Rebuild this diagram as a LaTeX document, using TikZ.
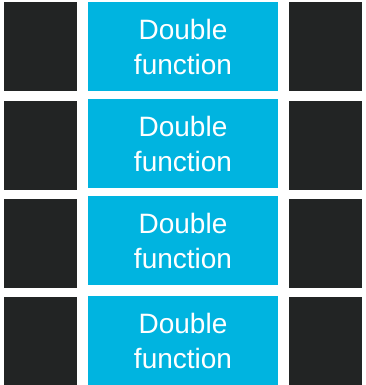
\documentclass[tikz,border=0pt]{standalone}
\usepackage{fontspec}
\setmainfont{Liberation Sans}
\definecolor{darkbox}{HTML}{222424}
\definecolor{bluebox}{HTML}{00B4E0}
\tikzset{
  darksq/.style={fill=darkbox, draw=none, minimum width=73pt, minimum height=89pt, inner sep=0pt},
  bluesq/.style={fill=bluebox, draw=none, minimum width=190pt, minimum height=89pt, inner sep=0pt,
    text=white, align=center, font=\fontsize{28}{35}\selectfont}
}
\begin{document}
\begin{tikzpicture}[x=1pt,y=1pt]
\useasboundingbox (0,0) rectangle (366,-385);
\node[darksq] (l1) at (40.5,-46.5) {};
\node[darksq] (l2) at (40.5,-145.5) {};
\node[darksq] (l3) at (40.5,-243.5) {};
\node[darksq] (l4) at (40.5,-341) {};
\node[darksq] (r1) at (325.5,-46.5) {};
\node[darksq] (r2) at (325.5,-145.5) {};
\node[darksq] (r3) at (325.5,-243.5) {};
\node[darksq] (r4) at (325.5,-341) {};
\node[bluesq] (b1) at (183,-46.5) {Double\\function};
\node[bluesq] (b2) at (183,-143.5) {Double\\function};
\node[bluesq] (b3) at (183,-240.5) {Double\\function};
\node[bluesq] (b4) at (183,-340.5) {Double\\function};
\end{tikzpicture}
\end{document}
